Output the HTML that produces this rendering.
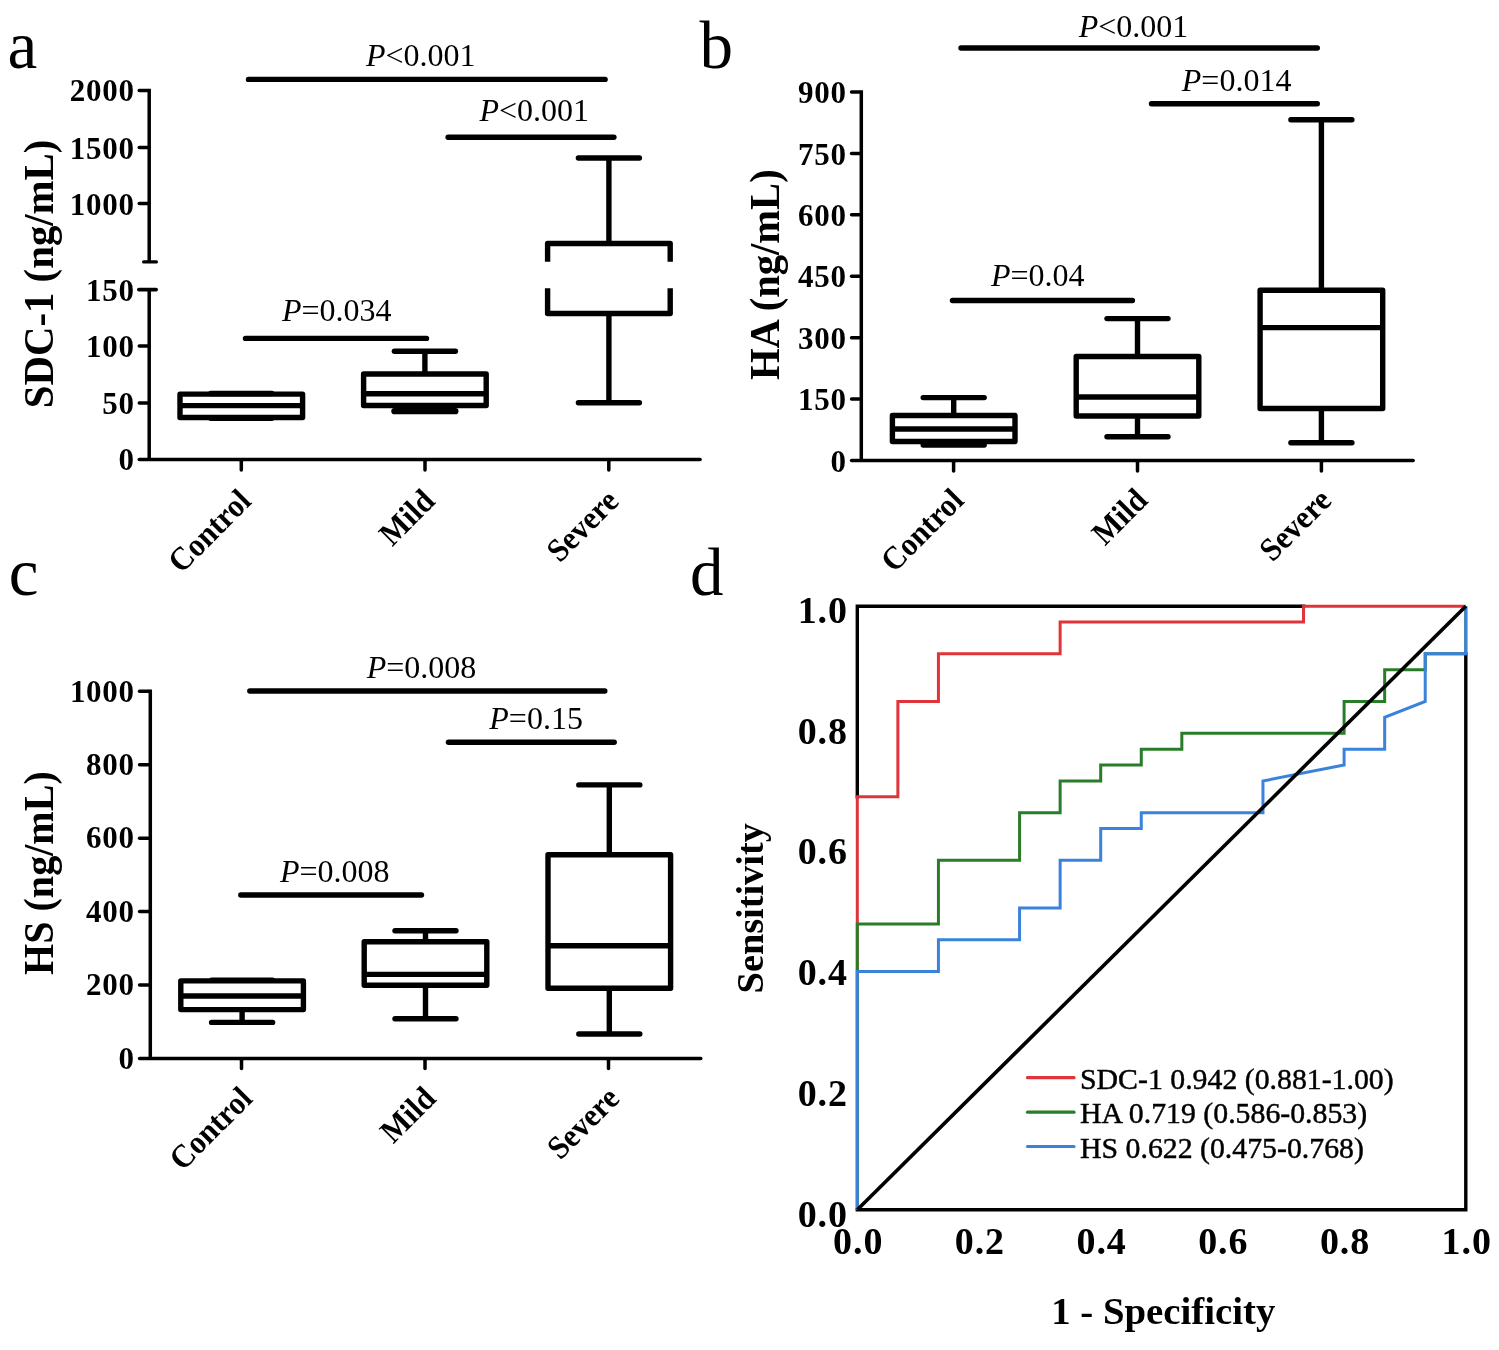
<!DOCTYPE html><html><head><meta charset="utf-8"><style>html,body{margin:0;padding:0;background:#fff;}svg{display:block;will-change:transform;}text{font-family:"Liberation Serif", serif;}</style></head><body>
<svg width="1499" height="1350" viewBox="0 0 1499 1350">
<rect x="0" y="0" width="1499" height="1350" fill="#fff"/>
<text x="7.60" y="67.60" font-size="67" font-weight="normal" text-anchor="start" >a</text>
<text x="699.60" y="67.80" font-size="67" font-weight="normal" text-anchor="start" >b</text>
<text x="8.80" y="594.90" font-size="67" font-weight="normal" text-anchor="start" >c</text>
<text x="690.00" y="595.00" font-size="67" font-weight="normal" text-anchor="start" >d</text>
<line x1="149.20" y1="88.75" x2="149.20" y2="261.90" stroke="#000" stroke-width="3.5" stroke-linecap="butt"/>
<line x1="149.20" y1="289.60" x2="149.20" y2="459.50" stroke="#000" stroke-width="3.5" stroke-linecap="butt"/>
<line x1="139.25" y1="459.50" x2="700.05" y2="459.50" stroke="#000" stroke-width="3.5" stroke-linecap="round"/>
<line x1="139.25" y1="90.50" x2="147.45" y2="90.50" stroke="#000" stroke-width="3.5" stroke-linecap="round"/>
<line x1="139.25" y1="147.60" x2="147.45" y2="147.60" stroke="#000" stroke-width="3.5" stroke-linecap="round"/>
<line x1="139.25" y1="203.60" x2="147.45" y2="203.60" stroke="#000" stroke-width="3.5" stroke-linecap="round"/>
<line x1="139.25" y1="346.00" x2="147.45" y2="346.00" stroke="#000" stroke-width="3.5" stroke-linecap="round"/>
<line x1="139.25" y1="403.00" x2="147.45" y2="403.00" stroke="#000" stroke-width="3.5" stroke-linecap="round"/>
<line x1="143.70" y1="261.90" x2="156.30" y2="261.90" stroke="#000" stroke-width="3.4" stroke-linecap="round"/>
<line x1="138.90" y1="289.60" x2="156.10" y2="289.60" stroke="#000" stroke-width="3.8" stroke-linecap="round"/>
<line x1="241.30" y1="461.25" x2="241.30" y2="470.05" stroke="#000" stroke-width="3.5" stroke-linecap="round"/>
<line x1="425.00" y1="461.25" x2="425.00" y2="470.05" stroke="#000" stroke-width="3.5" stroke-linecap="round"/>
<line x1="608.80" y1="461.25" x2="608.80" y2="470.05" stroke="#000" stroke-width="3.5" stroke-linecap="round"/>
<text x="134.60" y="101.40" font-size="31" font-weight="bold" text-anchor="end" letter-spacing="0.7">2000</text>
<text x="134.60" y="158.50" font-size="31" font-weight="bold" text-anchor="end" letter-spacing="0.7">1500</text>
<text x="134.60" y="214.50" font-size="31" font-weight="bold" text-anchor="end" letter-spacing="0.7">1000</text>
<text x="134.60" y="300.50" font-size="31" font-weight="bold" text-anchor="end" letter-spacing="0.7">150</text>
<text x="134.60" y="356.90" font-size="31" font-weight="bold" text-anchor="end" letter-spacing="0.7">100</text>
<text x="134.60" y="413.90" font-size="31" font-weight="bold" text-anchor="end" letter-spacing="0.7">50</text>
<text x="134.60" y="470.40" font-size="31" font-weight="bold" text-anchor="end" letter-spacing="0.7">0</text>
<text x="0" y="0" font-size="40.8" font-weight="bold" text-anchor="middle" transform="translate(52.70,273.90) rotate(-90) scale(1,1.035)">SDC-1 (ng/mL)</text>
<text x="0" y="0" font-size="30.5" font-weight="bold" text-anchor="end" transform="translate(252.80,502.80) rotate(-45) scale(1,1.07)">Control</text>
<text x="0" y="0" font-size="30.5" font-weight="bold" text-anchor="end" transform="translate(436.50,502.80) rotate(-45) scale(1,1.07)">Mild</text>
<text x="0" y="0" font-size="30.5" font-weight="bold" text-anchor="end" transform="translate(620.30,502.80) rotate(-45) scale(1,1.07)">Severe</text>
<line x1="241.30" y1="393.50" x2="241.30" y2="394.10" stroke="#000" stroke-width="5.4" stroke-linecap="butt"/>
<line x1="241.30" y1="417.50" x2="241.30" y2="418.30" stroke="#000" stroke-width="5.4" stroke-linecap="butt"/>
<line x1="210.80" y1="393.50" x2="271.80" y2="393.50" stroke="#000" stroke-width="5.4" stroke-linecap="round"/>
<line x1="210.80" y1="418.30" x2="271.80" y2="418.30" stroke="#000" stroke-width="5.4" stroke-linecap="round"/>
<rect x="180.00" y="394.10" width="122.60" height="23.40" fill="none" stroke="#000" stroke-width="5.4" stroke-linejoin="round"/>
<line x1="180.00" y1="405.60" x2="302.60" y2="405.60" stroke="#000" stroke-width="5.4" stroke-linecap="butt"/>
<line x1="424.90" y1="351.20" x2="424.90" y2="374.00" stroke="#000" stroke-width="5.4" stroke-linecap="butt"/>
<line x1="424.90" y1="405.50" x2="424.90" y2="411.20" stroke="#000" stroke-width="5.4" stroke-linecap="butt"/>
<line x1="394.40" y1="351.20" x2="455.40" y2="351.20" stroke="#000" stroke-width="5.4" stroke-linecap="round"/>
<line x1="394.40" y1="411.20" x2="455.40" y2="411.20" stroke="#000" stroke-width="6.2" stroke-linecap="round"/>
<rect x="363.60" y="374.00" width="122.60" height="31.50" fill="none" stroke="#000" stroke-width="5.4" stroke-linejoin="round"/>
<line x1="363.60" y1="393.70" x2="486.20" y2="393.70" stroke="#000" stroke-width="5.4" stroke-linecap="butt"/>
<line x1="608.90" y1="158.00" x2="608.90" y2="243.50" stroke="#000" stroke-width="5.4" stroke-linecap="butt"/>
<line x1="608.90" y1="313.50" x2="608.90" y2="402.70" stroke="#000" stroke-width="5.4" stroke-linecap="butt"/>
<line x1="578.40" y1="158.00" x2="639.40" y2="158.00" stroke="#000" stroke-width="5.4" stroke-linecap="round"/>
<line x1="578.40" y1="402.70" x2="639.40" y2="402.70" stroke="#000" stroke-width="5.4" stroke-linecap="round"/>
<path d="M547.60,261.70 L547.60,243.50 L670.20,243.50 L670.20,261.70" fill="none" stroke="#000" stroke-width="5.4" stroke-linejoin="round"/>
<path d="M547.60,288.20 L547.60,313.50 L670.20,313.50 L670.20,288.20" fill="none" stroke="#000" stroke-width="5.4" stroke-linejoin="round"/>
<line x1="248.50" y1="79.40" x2="605.10" y2="79.40" stroke="#000" stroke-width="5.4" stroke-linecap="round"/>
<line x1="448.10" y1="137.30" x2="613.90" y2="137.30" stroke="#000" stroke-width="5.4" stroke-linecap="round"/>
<line x1="245.50" y1="338.40" x2="426.50" y2="338.40" stroke="#000" stroke-width="5.4" stroke-linecap="round"/>
<text x="366.00" y="66.00" font-size="32"><tspan font-style="italic">P</tspan>&lt;0.001</text>
<text x="479.50" y="121.20" font-size="32"><tspan font-style="italic">P</tspan>&lt;0.001</text>
<text x="282.00" y="321.20" font-size="32"><tspan font-style="italic">P</tspan>=0.034</text>
<line x1="861.30" y1="90.25" x2="861.30" y2="460.50" stroke="#000" stroke-width="3.5" stroke-linecap="butt"/>
<line x1="851.55" y1="460.50" x2="1413.15" y2="460.50" stroke="#000" stroke-width="3.5" stroke-linecap="round"/>
<line x1="851.55" y1="92.00" x2="859.55" y2="92.00" stroke="#000" stroke-width="3.5" stroke-linecap="round"/>
<line x1="851.55" y1="153.42" x2="859.55" y2="153.42" stroke="#000" stroke-width="3.5" stroke-linecap="round"/>
<line x1="851.55" y1="214.83" x2="859.55" y2="214.83" stroke="#000" stroke-width="3.5" stroke-linecap="round"/>
<line x1="851.55" y1="276.25" x2="859.55" y2="276.25" stroke="#000" stroke-width="3.5" stroke-linecap="round"/>
<line x1="851.55" y1="337.67" x2="859.55" y2="337.67" stroke="#000" stroke-width="3.5" stroke-linecap="round"/>
<line x1="851.55" y1="399.08" x2="859.55" y2="399.08" stroke="#000" stroke-width="3.5" stroke-linecap="round"/>
<text x="846.70" y="103.20" font-size="31" font-weight="bold" text-anchor="end" letter-spacing="0.7">900</text>
<text x="846.70" y="164.62" font-size="31" font-weight="bold" text-anchor="end" letter-spacing="0.7">750</text>
<text x="846.70" y="226.03" font-size="31" font-weight="bold" text-anchor="end" letter-spacing="0.7">600</text>
<text x="846.70" y="287.45" font-size="31" font-weight="bold" text-anchor="end" letter-spacing="0.7">450</text>
<text x="846.70" y="348.87" font-size="31" font-weight="bold" text-anchor="end" letter-spacing="0.7">300</text>
<text x="846.70" y="410.28" font-size="31" font-weight="bold" text-anchor="end" letter-spacing="0.7">150</text>
<text x="846.70" y="471.70" font-size="31" font-weight="bold" text-anchor="end" letter-spacing="0.7">0</text>
<line x1="953.60" y1="462.25" x2="953.60" y2="471.05" stroke="#000" stroke-width="3.5" stroke-linecap="round"/>
<line x1="1137.50" y1="462.25" x2="1137.50" y2="471.05" stroke="#000" stroke-width="3.5" stroke-linecap="round"/>
<line x1="1321.40" y1="462.25" x2="1321.40" y2="471.05" stroke="#000" stroke-width="3.5" stroke-linecap="round"/>
<text x="0" y="0" font-size="40.6" font-weight="bold" text-anchor="middle" transform="translate(778.80,274.70) rotate(-90) scale(1,1.035)">HA (ng/mL)</text>
<text x="0" y="0" font-size="30.5" font-weight="bold" text-anchor="end" transform="translate(965.40,502.10) rotate(-45) scale(1,1.07)">Control</text>
<text x="0" y="0" font-size="30.5" font-weight="bold" text-anchor="end" transform="translate(1149.30,502.10) rotate(-45) scale(1,1.07)">Mild</text>
<text x="0" y="0" font-size="30.5" font-weight="bold" text-anchor="end" transform="translate(1333.20,502.10) rotate(-45) scale(1,1.07)">Severe</text>
<line x1="953.70" y1="397.60" x2="953.70" y2="415.50" stroke="#000" stroke-width="5.4" stroke-linecap="butt"/>
<line x1="953.70" y1="441.50" x2="953.70" y2="445.00" stroke="#000" stroke-width="5.4" stroke-linecap="butt"/>
<line x1="923.20" y1="397.60" x2="984.20" y2="397.60" stroke="#000" stroke-width="5.4" stroke-linecap="round"/>
<line x1="923.20" y1="445.00" x2="984.20" y2="445.00" stroke="#000" stroke-width="5.4" stroke-linecap="round"/>
<rect x="892.40" y="415.50" width="122.60" height="26.00" fill="none" stroke="#000" stroke-width="5.4" stroke-linejoin="round"/>
<line x1="892.40" y1="429.00" x2="1015.00" y2="429.00" stroke="#000" stroke-width="5.4" stroke-linecap="butt"/>
<line x1="1137.50" y1="318.60" x2="1137.50" y2="356.50" stroke="#000" stroke-width="5.4" stroke-linecap="butt"/>
<line x1="1137.50" y1="416.00" x2="1137.50" y2="436.70" stroke="#000" stroke-width="5.4" stroke-linecap="butt"/>
<line x1="1107.00" y1="318.60" x2="1168.00" y2="318.60" stroke="#000" stroke-width="5.4" stroke-linecap="round"/>
<line x1="1107.00" y1="436.70" x2="1168.00" y2="436.70" stroke="#000" stroke-width="5.4" stroke-linecap="round"/>
<rect x="1076.20" y="356.50" width="122.60" height="59.50" fill="none" stroke="#000" stroke-width="5.4" stroke-linejoin="round"/>
<line x1="1076.20" y1="397.00" x2="1198.80" y2="397.00" stroke="#000" stroke-width="5.4" stroke-linecap="butt"/>
<line x1="1321.40" y1="119.80" x2="1321.40" y2="290.20" stroke="#000" stroke-width="5.4" stroke-linecap="butt"/>
<line x1="1321.40" y1="408.50" x2="1321.40" y2="442.70" stroke="#000" stroke-width="5.4" stroke-linecap="butt"/>
<line x1="1290.90" y1="119.80" x2="1351.90" y2="119.80" stroke="#000" stroke-width="5.4" stroke-linecap="round"/>
<line x1="1290.90" y1="442.70" x2="1351.90" y2="442.70" stroke="#000" stroke-width="5.4" stroke-linecap="round"/>
<rect x="1260.10" y="290.20" width="122.60" height="118.30" fill="none" stroke="#000" stroke-width="5.4" stroke-linejoin="round"/>
<line x1="1260.10" y1="327.60" x2="1382.70" y2="327.60" stroke="#000" stroke-width="5.4" stroke-linecap="butt"/>
<line x1="961.00" y1="48.00" x2="1317.30" y2="48.00" stroke="#000" stroke-width="5.4" stroke-linecap="round"/>
<line x1="1151.50" y1="103.80" x2="1317.30" y2="103.80" stroke="#000" stroke-width="5.4" stroke-linecap="round"/>
<line x1="952.50" y1="300.50" x2="1132.40" y2="300.50" stroke="#000" stroke-width="5.4" stroke-linecap="round"/>
<text x="1078.70" y="36.50" font-size="32"><tspan font-style="italic">P</tspan>&lt;0.001</text>
<text x="1181.80" y="90.90" font-size="32"><tspan font-style="italic">P</tspan>=0.014</text>
<text x="990.90" y="285.50" font-size="32"><tspan font-style="italic">P</tspan>=0.04</text>
<line x1="150.30" y1="689.55" x2="150.30" y2="1058.40" stroke="#000" stroke-width="3.5" stroke-linecap="butt"/>
<line x1="139.55" y1="1058.40" x2="700.75" y2="1058.40" stroke="#000" stroke-width="3.5" stroke-linecap="round"/>
<line x1="139.55" y1="691.30" x2="148.55" y2="691.30" stroke="#000" stroke-width="3.5" stroke-linecap="round"/>
<line x1="139.55" y1="764.72" x2="148.55" y2="764.72" stroke="#000" stroke-width="3.5" stroke-linecap="round"/>
<line x1="139.55" y1="838.14" x2="148.55" y2="838.14" stroke="#000" stroke-width="3.5" stroke-linecap="round"/>
<line x1="139.55" y1="911.56" x2="148.55" y2="911.56" stroke="#000" stroke-width="3.5" stroke-linecap="round"/>
<line x1="139.55" y1="984.98" x2="148.55" y2="984.98" stroke="#000" stroke-width="3.5" stroke-linecap="round"/>
<text x="134.70" y="701.50" font-size="31" font-weight="bold" text-anchor="end" letter-spacing="0.7">1000</text>
<text x="134.70" y="774.92" font-size="31" font-weight="bold" text-anchor="end" letter-spacing="0.7">800</text>
<text x="134.70" y="848.34" font-size="31" font-weight="bold" text-anchor="end" letter-spacing="0.7">600</text>
<text x="134.70" y="921.76" font-size="31" font-weight="bold" text-anchor="end" letter-spacing="0.7">400</text>
<text x="134.70" y="995.18" font-size="31" font-weight="bold" text-anchor="end" letter-spacing="0.7">200</text>
<text x="134.70" y="1068.60" font-size="31" font-weight="bold" text-anchor="end" letter-spacing="0.7">0</text>
<line x1="241.50" y1="1060.15" x2="241.50" y2="1068.55" stroke="#000" stroke-width="3.5" stroke-linecap="round"/>
<line x1="425.00" y1="1060.15" x2="425.00" y2="1068.55" stroke="#000" stroke-width="3.5" stroke-linecap="round"/>
<line x1="608.50" y1="1060.15" x2="608.50" y2="1068.55" stroke="#000" stroke-width="3.5" stroke-linecap="round"/>
<text x="0" y="0" font-size="40.1" font-weight="bold" text-anchor="middle" transform="translate(53.10,873.10) rotate(-90) scale(1,1.035)">HS (ng/mL)</text>
<text x="0" y="0" font-size="30.5" font-weight="bold" text-anchor="end" transform="translate(254.00,1100.20) rotate(-45) scale(1,1.07)">Control</text>
<text x="0" y="0" font-size="30.5" font-weight="bold" text-anchor="end" transform="translate(437.50,1100.20) rotate(-45) scale(1,1.07)">Mild</text>
<text x="0" y="0" font-size="30.5" font-weight="bold" text-anchor="end" transform="translate(621.00,1100.20) rotate(-45) scale(1,1.07)">Severe</text>
<line x1="242.10" y1="980.30" x2="242.10" y2="980.90" stroke="#000" stroke-width="5.4" stroke-linecap="butt"/>
<line x1="242.10" y1="1009.60" x2="242.10" y2="1022.40" stroke="#000" stroke-width="5.4" stroke-linecap="butt"/>
<line x1="211.60" y1="980.30" x2="272.60" y2="980.30" stroke="#000" stroke-width="5.4" stroke-linecap="round"/>
<line x1="211.60" y1="1022.40" x2="272.60" y2="1022.40" stroke="#000" stroke-width="5.4" stroke-linecap="round"/>
<rect x="180.80" y="980.90" width="122.60" height="28.70" fill="none" stroke="#000" stroke-width="5.4" stroke-linejoin="round"/>
<line x1="180.80" y1="996.00" x2="303.40" y2="996.00" stroke="#000" stroke-width="5.4" stroke-linecap="butt"/>
<line x1="425.50" y1="930.70" x2="425.50" y2="941.80" stroke="#000" stroke-width="5.4" stroke-linecap="butt"/>
<line x1="425.50" y1="985.20" x2="425.50" y2="1018.80" stroke="#000" stroke-width="5.4" stroke-linecap="butt"/>
<line x1="395.00" y1="930.70" x2="456.00" y2="930.70" stroke="#000" stroke-width="5.4" stroke-linecap="round"/>
<line x1="395.00" y1="1018.80" x2="456.00" y2="1018.80" stroke="#000" stroke-width="5.4" stroke-linecap="round"/>
<rect x="364.20" y="941.80" width="122.60" height="43.40" fill="none" stroke="#000" stroke-width="5.4" stroke-linejoin="round"/>
<line x1="364.20" y1="974.40" x2="486.80" y2="974.40" stroke="#000" stroke-width="5.4" stroke-linecap="butt"/>
<line x1="609.30" y1="784.90" x2="609.30" y2="854.80" stroke="#000" stroke-width="5.4" stroke-linecap="butt"/>
<line x1="609.30" y1="988.20" x2="609.30" y2="1034.00" stroke="#000" stroke-width="5.4" stroke-linecap="butt"/>
<line x1="578.80" y1="784.90" x2="639.80" y2="784.90" stroke="#000" stroke-width="5.4" stroke-linecap="round"/>
<line x1="578.80" y1="1034.00" x2="639.80" y2="1034.00" stroke="#000" stroke-width="5.4" stroke-linecap="round"/>
<rect x="548.00" y="854.80" width="122.60" height="133.40" fill="none" stroke="#000" stroke-width="5.4" stroke-linejoin="round"/>
<line x1="548.00" y1="945.80" x2="670.60" y2="945.80" stroke="#000" stroke-width="5.4" stroke-linecap="butt"/>
<line x1="249.80" y1="691.00" x2="604.80" y2="691.00" stroke="#000" stroke-width="5.4" stroke-linecap="round"/>
<line x1="448.50" y1="742.30" x2="614.20" y2="742.30" stroke="#000" stroke-width="5.4" stroke-linecap="round"/>
<line x1="240.80" y1="895.00" x2="421.50" y2="895.00" stroke="#000" stroke-width="5.4" stroke-linecap="round"/>
<text x="366.70" y="678.20" font-size="32"><tspan font-style="italic">P</tspan>=0.008</text>
<text x="489.30" y="729.20" font-size="32"><tspan font-style="italic">P</tspan>=0.15</text>
<text x="280.00" y="881.50" font-size="32"><tspan font-style="italic">P</tspan>=0.008</text>
<path d="M857.30,796.81 L857.30,606.20 L1303.53,606.20" fill="none" stroke="#000" stroke-width="3.4" stroke-linecap="square" stroke-linejoin="miter"/>
<path d="M1465.80,653.85 L1465.80,1209.80 L857.30,1209.80" fill="none" stroke="#000" stroke-width="3.4" stroke-linecap="square" stroke-linejoin="miter"/>
<path d="M857.30,1209.80 L857.30,796.81 L897.87,796.81 L897.87,701.51 L938.43,701.51 L938.43,653.85 L1060.13,653.85 L1060.13,622.08 L1303.53,622.08 L1303.53,606.20 L1465.80,606.20" fill="none" stroke="#e0343a" stroke-width="3.0" stroke-linejoin="miter"/>
<path d="M857.30,1209.80 L857.30,923.88 L938.43,923.88 L938.43,860.35 L1019.57,860.35 L1019.57,812.69 L1060.13,812.69 L1060.13,780.93 L1100.70,780.93 L1100.70,765.04 L1141.27,765.04 L1141.27,749.16 L1181.83,749.16 L1181.83,733.27 L1344.10,733.27 L1344.10,701.51 L1384.67,701.51 L1384.67,669.74 L1425.23,669.74 L1425.23,653.85 L1465.80,653.85 L1465.80,606.20" fill="none" stroke="#2a7d28" stroke-width="3.0" stroke-linejoin="miter"/>
<path d="M857.30,1209.80 L857.30,971.54 L938.43,971.54 L938.43,939.77 L1019.57,939.77 L1019.57,908.00 L1060.13,908.00 L1060.13,860.35 L1100.70,860.35 L1100.70,828.58 L1141.27,828.58 L1141.27,812.69 L1262.97,812.69 L1262.97,780.93 L1344.10,765.04 L1344.10,749.16 L1384.67,749.16 L1384.67,717.39 L1425.23,701.51 L1425.23,653.85 L1465.80,653.85 L1465.80,606.20" fill="none" stroke="#3a82dc" stroke-width="3.0" stroke-linejoin="miter"/>
<line x1="857.30" y1="1209.80" x2="1465.80" y2="606.20" stroke="#000" stroke-width="3.6" stroke-linecap="butt"/>
<text x="847.90" y="1226.60" font-size="38" font-weight="bold" text-anchor="end" letter-spacing="0.9">0.0</text>
<text x="847.90" y="1105.88" font-size="38" font-weight="bold" text-anchor="end" letter-spacing="0.9">0.2</text>
<text x="847.90" y="985.16" font-size="38" font-weight="bold" text-anchor="end" letter-spacing="0.9">0.4</text>
<text x="847.90" y="864.44" font-size="38" font-weight="bold" text-anchor="end" letter-spacing="0.9">0.6</text>
<text x="847.90" y="743.72" font-size="38" font-weight="bold" text-anchor="end" letter-spacing="0.9">0.8</text>
<text x="847.90" y="623.00" font-size="38" font-weight="bold" text-anchor="end" letter-spacing="0.9">1.0</text>
<text x="858.20" y="1254.00" font-size="38" font-weight="bold" text-anchor="middle" letter-spacing="0.9">0.0</text>
<text x="979.90" y="1254.00" font-size="38" font-weight="bold" text-anchor="middle" letter-spacing="0.9">0.2</text>
<text x="1101.60" y="1254.00" font-size="38" font-weight="bold" text-anchor="middle" letter-spacing="0.9">0.4</text>
<text x="1223.30" y="1254.00" font-size="38" font-weight="bold" text-anchor="middle" letter-spacing="0.9">0.6</text>
<text x="1345.00" y="1254.00" font-size="38" font-weight="bold" text-anchor="middle" letter-spacing="0.9">0.8</text>
<text x="1466.70" y="1254.00" font-size="38" font-weight="bold" text-anchor="middle" letter-spacing="0.9">1.0</text>
<text x="0" y="0" font-size="38.3" font-weight="bold" text-anchor="middle" transform="translate(762.60,908.30) rotate(-90) scale(1,1.0)">Sensitivity</text>
<text x="1163.30" y="1324.30" font-size="38.8" font-weight="bold" text-anchor="middle" >1 - Specificity</text>
<line x1="1027.50" y1="1077.70" x2="1074.00" y2="1077.70" stroke="#e0343a" stroke-width="3.2" stroke-linecap="round"/>
<text x="1080.00" y="1088.70" font-size="29.8" font-weight="normal" text-anchor="start" stroke="#000" stroke-width="0.45">SDC-1 0.942 (0.881-1.00)</text>
<line x1="1027.50" y1="1112.20" x2="1074.00" y2="1112.20" stroke="#2a7d28" stroke-width="3.2" stroke-linecap="round"/>
<text x="1080.00" y="1122.60" font-size="29.8" font-weight="normal" text-anchor="start" stroke="#000" stroke-width="0.45">HA 0.719 (0.586-0.853)</text>
<line x1="1027.50" y1="1146.50" x2="1074.00" y2="1146.50" stroke="#3a82dc" stroke-width="3.2" stroke-linecap="round"/>
<text x="1080.00" y="1157.60" font-size="29.8" font-weight="normal" text-anchor="start" stroke="#000" stroke-width="0.45">HS 0.622 (0.475-0.768)</text>
</svg></body></html>
